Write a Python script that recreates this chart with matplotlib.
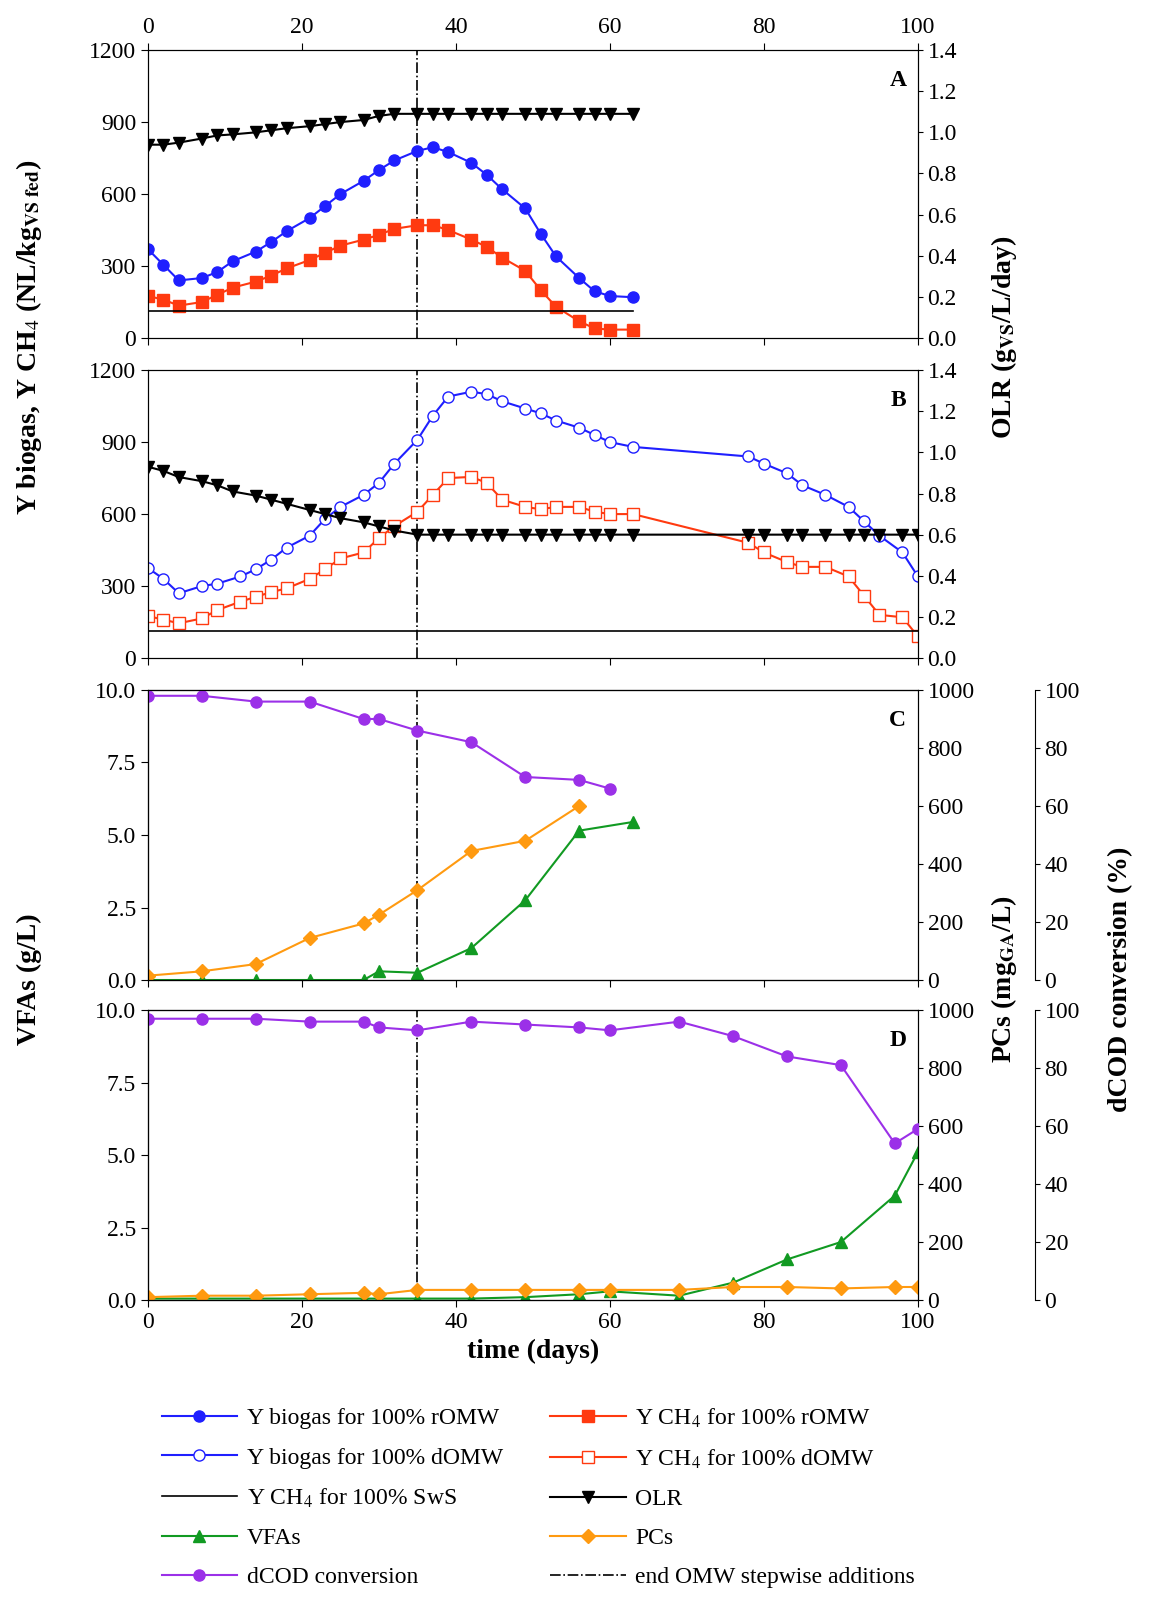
import matplotlib.pyplot as plt
from matplotlib.lines import Line2D

plt.rcParams['font.family'] = ['Liberation Serif', 'DejaVu Serif']
plt.rcParams['font.size'] = 17
plt.rcParams['mathtext.fontset'] = 'stix'

# ---- panel A (rOMW) ----
dA = [0, 2, 4, 7, 9, 11, 14, 16, 18, 21, 23, 25, 28, 30, 32, 35, 37, 39, 42, 44, 46, 49, 51, 53, 56, 58, 60, 63]
biogas_r = [370, 305, 240, 250, 275, 320, 360, 400, 445, 500, 550, 600, 655, 700, 740, 780, 795, 775,
            730, 680, 620, 540, 435, 340, 250, 195, 175, 170]
ch4_r = [175, 160, 135, 150, 180, 210, 235, 260, 290, 325, 355, 385, 410, 430, 455, 470, 470, 450,
         410, 380, 335, 280, 200, 130, 70, 40, 35, 35]
olr_A = [0.94, 0.94, 0.95, 0.97, 0.985, 0.99, 1.0, 1.01, 1.02, 1.03, 1.04, 1.05, 1.06, 1.08, 1.09, 1.09,
         1.09, 1.09, 1.09, 1.09, 1.09, 1.09, 1.09, 1.09, 1.09, 1.09, 1.09, 1.09]
sws_A_days = [0, 63]
sws_val = 112

# ---- panel B (dOMW) ----
dB = [0, 2, 4, 7, 9, 12, 14, 16, 18, 21, 23, 25, 28, 30, 32, 35, 37, 39, 42, 44, 46, 49, 51, 53, 56,
      58, 60, 63, 78, 80, 83, 85, 88, 91, 93, 95, 98, 100]
biogas_d = [375, 330, 270, 300, 310, 340, 370, 410, 460, 510, 580, 630, 680, 730, 810, 910, 1010, 1090,
            1110, 1100, 1070, 1040, 1020, 990, 960, 930, 900, 880, 840, 810, 770, 720, 680, 630, 570,
            510, 440, 340]
ch4_d = [175, 160, 145, 165, 200, 235, 255, 275, 290, 330, 370, 415, 440, 500, 550, 610, 680, 750, 755,
         730, 660, 630, 620, 630, 630, 610, 600, 600, 480, 440, 400, 380, 380, 340, 260, 180, 170, 90]
dB_olr = [0, 2, 4, 7, 9, 11, 14, 16, 18, 21, 23, 25, 28, 30, 32, 35, 37, 39, 42, 44, 46, 49, 51, 53, 56,
          58, 60, 63, 78, 80, 83, 85, 88, 91, 93, 95, 98, 100]
olr_B = [0.93, 0.91, 0.88, 0.86, 0.84, 0.81, 0.79, 0.77, 0.75, 0.72, 0.70, 0.68, 0.66, 0.64, 0.62, 0.60,
         0.60, 0.60, 0.60, 0.60, 0.60, 0.60, 0.60, 0.60, 0.60, 0.60, 0.60, 0.60, 0.60, 0.60, 0.60, 0.60,
         0.60, 0.60, 0.60, 0.60, 0.60, 0.60]
sws_B_days = [0, 100]

# ---- panel C ----
dC = [0, 7, 14, 21, 28, 30, 35, 42, 49, 56, 60]
dcod_C = [98, 98, 96, 96, 90, 90, 86, 82, 70, 69, 66]
dC_pc = [0, 7, 14, 21, 28, 30, 35, 42, 49, 56]
pcs_C = [15, 30, 55, 145, 195, 225, 310, 445, 480, 600]
dC_vfa = [0, 7, 14, 21, 28, 30, 35, 42, 49, 56, 63]
vfa_C = [0, 0, 0, 0, 0, 0.3, 0.25, 1.1, 2.75, 5.15, 5.45]

# ---- panel D ----
dD = [0, 7, 14, 21, 28, 30, 35, 42, 49, 56, 60, 69, 76, 83, 90, 97, 100]
dcod_D = [97, 97, 97, 96, 96, 94, 93, 96, 95, 94, 93, 96, 91, 84, 81, 54, 59]
pcs_D = [10, 15, 15, 20, 25, 20, 35, 35, 35, 35, 35, 35, 45, 45, 40, 45, 45]
vfa_D = [0.05, 0.05, 0.05, 0.05, 0.05, 0.05, 0.05, 0.05, 0.1, 0.2, 0.3, 0.15, 0.6, 1.4, 2.0, 3.6, 5.1]

end_day = 35

BLUE = '#1f1fff'
RED = '#ff3a10'
GREEN = '#119a22'
ORANGE = '#ff9a10'
PURPLE = '#9b30e8'

fig = plt.figure(figsize=(11.7, 16.05), dpi=100)
L, W = 0.1265, 0.658
axA = fig.add_axes([L, 0.7894, W, 0.1794])
axB = fig.add_axes([L, 0.590, W, 0.1794])
axC = fig.add_axes([L, 0.3894, W, 0.1807])
axD = fig.add_axes([L, 0.190, W, 0.1807])

ms = 8
for ax in (axA, axB, axC, axD):
    ax.set_xlim(0, 100)
    ax.axvline(end_day, color='black', lw=1.2, ls='-.')
    ax.tick_params(direction='out', length=5)
    ax.set_xticks([0, 20, 40, 60, 80, 100])

# A
axA.plot(dA, biogas_r, '-o', color=BLUE, ms=ms)
axA.plot(dA, ch4_r, '-s', color=RED, ms=ms)
axA.plot(sws_A_days, [sws_val, sws_val], color='black', lw=1.2)
axA.set_ylim(0, 1200)
axA.set_yticks([0, 300, 600, 900, 1200])
axA.tick_params(labelbottom=False, top=True, labeltop=True)
rA = axA.twinx()
rA.plot(dA, olr_A, '-v', color='black', ms=ms)
rA.set_ylim(0, 1.4)
rA.set_yticks([0, 0.2, 0.4, 0.6, 0.8, 1.0, 1.2, 1.4])
rA.set_yticklabels(['0.0', '0.2', '0.4', '0.6', '0.8', '1.0', '1.2', '1.4'])
axA.text(0.985, 0.93, 'A', transform=axA.transAxes, ha='right', va='top', fontweight='bold')

# B
axB.plot(dB, biogas_d, '-o', color=BLUE, ms=ms, mfc='white')
axB.plot(dB, ch4_d, '-s', color=RED, ms=ms, mfc='white')
axB.plot(sws_B_days, [sws_val, sws_val], color='black', lw=1.2)
axB.set_ylim(0, 1200)
axB.set_yticks([0, 300, 600, 900, 1200])
axB.tick_params(labelbottom=False)
rB = axB.twinx()
rB.plot(dB_olr, olr_B, '-v', color='black', ms=ms)
rB.set_ylim(0, 1.4)
rB.set_yticks([0, 0.2, 0.4, 0.6, 0.8, 1.0, 1.2, 1.4])
rB.set_yticklabels(['0.0', '0.2', '0.4', '0.6', '0.8', '1.0', '1.2', '1.4'])
axB.text(0.985, 0.93, 'B', transform=axB.transAxes, ha='right', va='top', fontweight='bold')


def panel_cd(ax, dv, vfa, dp, pcs, dc, dcod, letter, bottom):
    ax.plot(dv, vfa, '-^', color=GREEN, ms=ms)
    ax.set_ylim(0, 10)
    ax.set_yticks([0, 2.5, 5, 7.5, 10])
    ax.set_yticklabels(['0.0', '2.5', '5.0', '7.5', '10.0'])
    ax.tick_params(labelbottom=bottom)
    r = ax.twinx()
    r.plot(dp, pcs, '-D', color=ORANGE, ms=ms - 1)
    r.set_ylim(0, 1000)
    r.set_yticks(range(0, 1001, 200))
    r2 = ax.twinx()
    r2.spines['right'].set_position(('axes', 1.152))
    r2.plot(dc, dcod, '-o', color=PURPLE, ms=ms)
    r2.set_ylim(0, 100)
    r2.set_yticks(range(0, 101, 20))
    ax.text(0.985, 0.93, letter, transform=ax.transAxes, ha='right', va='top', fontweight='bold')
    return r, r2


panel_cd(axC, dC_vfa, vfa_C, dC_pc, pcs_C, dC, dcod_C, 'C', False)
panel_cd(axD, dD, vfa_D, dD, pcs_D, dD, dcod_D, 'D', True)
axD.set_xlabel('time (days)', fontweight='bold', fontsize=20)

fig.text(0.025, 0.79, r'Y biogas, Y CH$_4$ (NL/kg$_{\mathbf{VS\ fed}}$)', rotation=90,
         ha='center', va='center', fontweight='bold', fontsize=20)
fig.text(0.858, 0.79, r'OLR (g$_{\mathbf{VS}}$/L/day)', rotation=90,
         ha='center', va='center', fontweight='bold', fontsize=20)
fig.text(0.025, 0.39, 'VFAs (g/L)', rotation=90, ha='center', va='center',
         fontweight='bold', fontsize=20)
fig.text(0.858, 0.39, r'PCs (mg$_{\mathbf{GA}}$/L)', rotation=90, ha='center', va='center',
         fontweight='bold', fontsize=20)
fig.text(0.958, 0.39, 'dCOD conversion (%)', rotation=90, ha='center', va='center',
         fontweight='bold', fontsize=20)

handles = [
    Line2D([], [], color=BLUE, marker='o', ms=ms),
    Line2D([], [], color=RED, marker='s', ms=ms),
    Line2D([], [], color=BLUE, marker='o', ms=ms, mfc='white'),
    Line2D([], [], color=RED, marker='s', ms=ms, mfc='white'),
    Line2D([], [], color='black', lw=1.2),
    Line2D([], [], color='black', marker='v', ms=ms),
    Line2D([], [], color=GREEN, marker='^', ms=ms),
    Line2D([], [], color=ORANGE, marker='D', ms=ms - 1),
    Line2D([], [], color=PURPLE, marker='o', ms=ms),
    Line2D([], [], color='black', lw=1.2, ls='-.'),
]
labels = ['Y biogas for 100% rOMW', r'Y CH$_4$ for 100% rOMW',
          'Y biogas for 100% dOMW', r'Y CH$_4$ for 100% dOMW',
          r'Y CH$_4$ for 100% SwS', 'OLR', 'VFAs', 'PCs',
          'dCOD conversion', 'end OMW stepwise additions']
# reorder so ncol=2 fills row-wise
order = [0, 2, 4, 6, 8, 1, 3, 5, 7, 9]
fig.legend([handles[i] for i in order], [labels[i] for i in order], ncol=2,
           loc='upper left', bbox_to_anchor=(0.12, 0.137), frameon=False,
           handlelength=3.2, handletextpad=0.4, columnspacing=2.0, labelspacing=0.75,
           fontsize=17)

fig.savefig('out.png', dpi=100)
